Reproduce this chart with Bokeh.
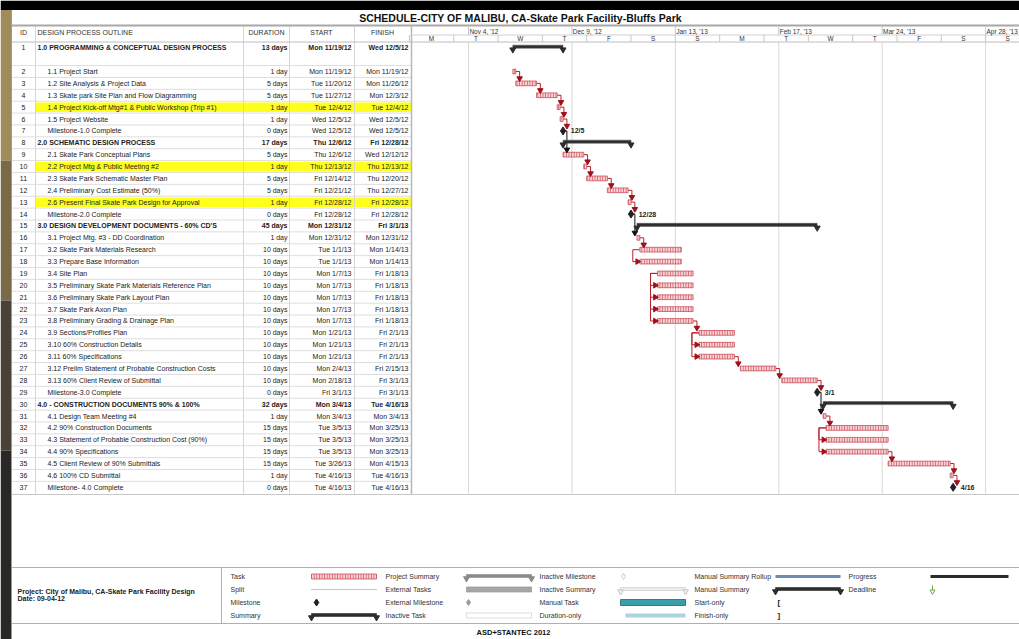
import numpy as np
import pandas as pd
from bokeh.plotting import figure
from bokeh.models import Range1d, ColumnDataSource
from bokeh.core.properties import value
from bokeh.embed import file_html
from bokeh.resources import INLINE

# ---------------- data ----------------
chart_title = "SCHEDULE-CITY OF MALIBU, CA-Skate Park Facility-Bluffs Park"
header_labels = ["ID", "DESIGN PROCESS OUTLINE", "DURATION", "START", "FINISH"]

ids = list(range(1, 38))
names = [
    "1.0 PROGRAMMING & CONCEPTUAL DESIGN PROCESS",
    "1.1 Project Start",
    "1.2 Site Analysis & Project Data",
    "1.3  Skate park Site Plan and Flow Diagramming",
    "1.4 Project Kick-off Mtg#1 & Public Workshop (Trip #1)",
    "1.5 Project Website",
    "Milestone-1.0 Complete",
    "2.0 SCHEMATIC DESIGN PROCESS",
    "2.1 Skate Park Conceptual Plans",
    "2.2 Project Mtg & Public Meeting #2",
    "2.3 Skate Park Schematic Master Plan",
    "2.4  Preliminary Cost Estimate (50%)",
    "2.6  Present Final Skate Park Design for Approval",
    "Milestone-2.0 Complete",
    "3.0 DESIGN DEVELOPMENT DOCUMENTS - 60% CD'S",
    "3.1 Project Mtg. #3 - DD Coordination",
    "3.2 Skate Park Materials Research",
    "3.3 Prepare Base Information",
    "3.4 Site Plan",
    "3.5 Preliminary Skate Park Materials Reference Plan",
    "3.6 Preliminary Skate Park Layout Plan",
    "3.7 Skate Park Axon Plan",
    "3.8 Preliminary Grading & Drainage Plan",
    "3.9 Sections/Profiles Plan",
    "3.10 60% Construction Details",
    "3.11 60% Specifications",
    "3.12 Prelim Statement of Probable Construction Costs",
    "3.13 60% Client Review of Submittal",
    "Milestone-3.0 Complete",
    "4.0 - CONSTRUCTION DOCUMENTS 90% & 100%",
    "4.1 Design Team Meeting #4",
    "4.2 90% Construction Documents",
    "4.3 Statement of Probable Construction Cost (90%)",
    "4.4 90% Specifications",
    "4.5 Client Review of 90% Submittals",
    "4.6 100% CD Submittal",
    "Milestone- 4.0 Complete",
]
durations = [
    "13 days", "1 day", "5 days", "5 days", "1 day", "1 day", "0 days",
    "17 days", "5 days", "1 day", "5 days", "5 days", "1 day", "0 days",
    "45 days", "1 day", "10 days", "10 days", "10 days", "10 days", "10 days",
    "10 days", "10 days", "10 days", "10 days", "10 days", "10 days", "10 days",
    "0 days", "32 days", "1 day", "15 days", "15 days", "15 days", "15 days",
    "1 day", "0 days",
]
starts = [
    "Mon 11/19/12", "Mon 11/19/12", "Tue 11/20/12", "Tue 11/27/12", "Tue 12/4/12",
    "Wed 12/5/12", "Wed 12/5/12", "Thu 12/6/12", "Thu 12/6/12", "Thu 12/13/12",
    "Fri 12/14/12", "Fri 12/21/12", "Fri 12/28/12", "Fri 12/28/12", "Mon 12/31/12",
    "Mon 12/31/12", "Tue 1/1/13", "Tue 1/1/13", "Mon 1/7/13", "Mon 1/7/13",
    "Mon 1/7/13", "Mon 1/7/13", "Mon 1/7/13", "Mon 1/21/13", "Mon 1/21/13",
    "Mon 1/21/13", "Mon 2/4/13", "Mon 2/18/13", "Fri 3/1/13", "Mon 3/4/13",
    "Mon 3/4/13", "Tue 3/5/13", "Tue 3/5/13", "Tue 3/5/13", "Tue 3/26/13",
    "Tue 4/16/13", "Tue 4/16/13",
]
finishes = [
    "Wed 12/5/12", "Mon 11/19/12", "Mon 11/26/12", "Mon 12/3/12", "Tue 12/4/12",
    "Wed 12/5/12", "Wed 12/5/12", "Fri 12/28/12", "Wed 12/12/12", "Thu 12/13/12",
    "Thu 12/20/12", "Thu 12/27/12", "Fri 12/28/12", "Fri 12/28/12", "Fri 3/1/13",
    "Mon 12/31/12", "Mon 1/14/13", "Mon 1/14/13", "Fri 1/18/13", "Fri 1/18/13",
    "Fri 1/18/13", "Fri 1/18/13", "Fri 1/18/13", "Fri 2/1/13", "Fri 2/1/13",
    "Fri 2/1/13", "Fri 2/15/13", "Fri 3/1/13", "Fri 3/1/13", "Tue 4/16/13",
    "Mon 3/4/13", "Mon 3/25/13", "Mon 3/25/13", "Mon 3/25/13", "Mon 4/15/13",
    "Tue 4/16/13", "Tue 4/16/13",
]
summary_ids = [1, 8, 15, 30]
milestone_ids = [7, 14, 29, 37]
highlight_ids = [5, 10, 13]

# finish-to-start links (predecessor, successor)
fs_links = [(2, 3), (3, 4), (4, 5), (5, 6), (6, 7), (7, 9), (9, 10), (10, 11),
            (11, 12), (12, 13), (13, 14), (14, 16), (16, 17), (23, 24), (26, 27),
            (27, 28), (28, 29), (29, 31), (31, 32), (34, 35), (35, 36), (36, 37)]
# links drawn along the left side of the bars (anchor row, successor)
side_links = [(17, 18), (19, 20), (19, 21), (19, 22), (19, 23), (24, 25), (24, 26),
              (32, 33), (32, 34)]

major_ticks = ["2012-11-04", "2012-12-09", "2013-01-13", "2013-02-17", "2013-03-24", "2013-04-28"]
major_labels = ["Nov 4, '12", "Dec 9, '12", "Jan 13, '13", "Feb 17, '13", "Mar 24, '13", "Apr 28, '13"]
minor_ticks = ["2012-10-15", "2012-10-30", "2012-11-14", "2012-11-29", "2012-12-14",
               "2012-12-29", "2013-01-13", "2013-01-28", "2013-02-12", "2013-02-27",
               "2013-03-14", "2013-03-29", "2013-04-13", "2013-04-28", "2013-05-13"]
minor_labels = ["M", "T", "W", "T", "F", "S", "S", "M", "T", "W", "T", "F", "S", "S"]

legend_cols = [
    ["Task", "Split", "Milestone", "Summary"],
    ["Project Summary", "External Tasks", "External Milestone", "Inactive Task"],
    ["Inactive Milestone", "Inactive Summary", "Manual Task", "Duration-only"],
    ["Manual Summary Rollup", "Manual Summary", "Start-only", "Finish-only"],
    ["Progress", "Deadline"],
]
project_lines = ["Project: City of Malibu, CA-Skate Park Facility Design", "Date: 09-04-12"]
footer = "ASD+STANTEC 2012"

# ---------------- layout ----------------
FONT = value("Liberation Sans")
W, H = 1019, 639
OX, OY = 0, 0
ORIGIN = pd.Timestamp("2012-11-04")
PX_DAY = 2.955
ORIGIN_PX = 468.0
PITCH = 11.88
ROW2_PX = 71.0
DAY = 86400000.0


def ms(ts):
    return (pd.Timestamp(ts) - pd.Timestamp("1970-01-01")) / pd.Timedelta(milliseconds=1)


def parse(s):
    return pd.to_datetime(s.split()[1], format="%m/%d/%y")


x0 = ms(ORIGIN) + (OX - ORIGIN_PX) / PX_DAY * DAY
x1 = ms(ORIGIN) + (OX + W - ORIGIN_PX) / PX_DAY * DAY
y_top = (OY - ROW2_PX) / PITCH + 2
y_bot = (OY + H - ROW2_PX) / PITCH + 2

p = figure(width=W, height=H, x_range=Range1d(x0, x1), y_range=Range1d(y_bot, y_top),
           output_backend="svg", toolbar_location=None, min_border=0,
           x_axis_location=None, y_axis_location=None, outline_line_color=None,
           background_fill_color="white", border_fill_color="white")
p.grid.visible = False
p.extra_x_ranges = {"px": Range1d(OX, OX + W)}
p.extra_y_ranges = {"py": Range1d(OY + H, OY)}
PXY = dict(x_range_name="px", y_range_name="py")

start_ms = np.array([ms(parse(s)) for s in starts])
end_ms = np.array([ms(parse(s)) for s in finishes]) + DAY
ypos = np.array([0 if i == 1 else i for i in ids], dtype=float)
idx = {i: k for k, i in enumerate(ids)}

# background decoration (photo edge + black band)
p.quad(left=[0] * 4, right=[10.5] * 4, top=[9, 160, 300, 450], bottom=[160, 300, 450, 639],
       fill_color=["#a08c5a", "#7a6a48", "#4a4236", "#2a2826"], line_color=None, **PXY)
p.quad(left=[0], right=[1019], top=[0], bottom=[9.5], fill_color="black", line_color=None, **PXY)

# highlights
hl = [idx[i] for i in highlight_ids]
p.quad(left=[35.5] * len(hl), right=[410.5] * len(hl), top=list(ypos[hl] - 0.4),
       bottom=list(ypos[hl] + 0.4), fill_color="#ffff1e", line_color=None, x_range_name="px")

# table grid
row_lines = [1.5 + k for k in range(36)]
p.segment(x0=[11] * len(row_lines), x1=[411] * len(row_lines), y0=row_lines, y1=row_lines,
          line_color="#dedede", line_width=1, x_range_name="px")
col_x = [35, 243, 289, 354]
p.segment(x0=col_x, x1=col_x, y0=[26] * 4, y1=[494] * 4, line_color="#d6d6d6", **PXY)
p.segment(x0=[11, 411], x1=[11, 411], y0=[9.5, 26], y1=[639, 494],
          line_color=["#9a9a9a", "#b8b8b8"], line_width=[1, 1.5], **PXY)

# horizontal frame lines
p.segment(x0=[11, 11, 411, 11, 11, 11], x1=[1019] * 6, y0=[25, 41.5, 34.5, 494, 567, 623],
          y1=[25, 41.5, 34.5, 494, 567, 623],
          line_color=["#a8a8a8", "#bdbdbd", "#d0d0d0", "#c8c8c8", "#b0b0b0", "#b0b0b0"],
          line_width=[2, 1, 1, 1, 1, 1], **PXY)
p.segment(x0=[221], x1=[221], y0=[567], y1=[623], line_color="#b0b0b0", **PXY)

# title
p.text(x=[520], y=[17], text=[chart_title], text_font=FONT, text_font_size="10.5px",
       text_font_style="bold", text_align="center", text_baseline="middle",
       text_color="#111", **PXY)

# table header
p.text(x=[23, 37, 266, 321, 382], y=[32] * 5, text=header_labels, text_font=FONT,
       text_font_size="7px", text_align=["center", "left", "center", "center", "center"],
       text_baseline="middle", text_color="#333", **PXY)

# table body
is_sum = np.array([i in summary_ids for i in ids])
name_x = np.where(is_sum, 37, 47)
for mask, style in ((~is_sum, "normal"), (is_sum, "bold")):
    sel = np.where(mask)[0]
    src = ColumnDataSource(dict(
        y=ypos[sel], idtxt=[str(ids[k]) for k in sel], name=[names[k] for k in sel],
        nx=name_x[sel], dur=[durations[k] for k in sel], st=[starts[k] for k in sel],
        fi=[finishes[k] for k in sel]))
    common = dict(source=src, y="y", text_font=FONT, text_font_size="7px",
                  text_baseline="middle", text_color="#222", x_range_name="px")
    p.text(x=23, text="idtxt", text_align="center", **common)
    p.text(x="nx", text="name", text_align="left", text_font_style=style, **common)
    p.text(x=287, text="dur", text_align="right", text_font_style=style, **common)
    p.text(x=351, text="st", text_align="right", text_font_style=style, **common)
    p.text(x=408, text="fi", text_align="right", text_font_style=style, **common)

# timescale header
maj = np.array([ms(t) for t in major_ticks])
mnr = np.array([ms(t) for t in minor_ticks])
p.segment(x0=maj, x1=maj, y0=[26] * len(maj), y1=[34.5] * len(maj), line_color="#c8c8c8",
          y_range_name="py")
p.segment(x0=mnr, x1=mnr, y0=[34.5] * len(mnr), y1=[41.5] * len(mnr), line_color="#c8c8c8",
          y_range_name="py")
p.segment(x0=maj, x1=maj, y0=[41.5] * len(maj), y1=[494] * len(maj), line_color="#d8d8d8",
          y_range_name="py")
p.text(x=maj + 0.3 * DAY, y=[30.5] * len(maj), text=major_labels, text_font=FONT,
       text_font_size="6.5px", text_baseline="middle", text_align="left", text_color="#333",
       y_range_name="py")
p.text(x=(mnr[:-1] + mnr[1:]) / 2, y=[38.2] * len(minor_labels), text=minor_labels,
       text_font=FONT, text_font_size="6.5px", text_baseline="middle", text_align="center",
       text_color="#333", y_range_name="py")

# ---------------- gantt ----------------
is_ms = np.array([i in milestone_ids for i in ids])
task_sel = np.where(~is_sum & ~is_ms)[0]
sum_sel = np.where(is_sum)[0]
ms_sel = np.where(is_ms)[0]

TASK_STYLE = dict(fill_color="#f8d3d6", line_color="#c8505a", line_width=0.8,
                  hatch_pattern="vertical_line", hatch_color="#d45a66", hatch_scale=2.6,
                  hatch_weight=0.9)

# links
link_xs, link_ys, link_col = [], [], []
arr_x, arr_y, arr_c = [], [], []
for a, b in fs_links:
    ka, kb = idx[a], idx[b]
    xe = end_ms[ka]
    xa = xe + 1.3 * DAY
    link_xs.append([xe, xa, xa])
    link_ys.append([ypos[ka], ypos[ka], ypos[kb] - 0.45])
    link_col.append("#111111" if is_ms[ka] else "#b8222c")
    arr_x.append(xa)
    arr_y.append(ypos[kb] - 0.42)
    arr_c.append("#111111" if is_ms[ka] else "#a0101a")
rx, ry = [], []
for a, b in side_links:
    ka, kb = idx[a], idx[b]
    xl = start_ms[kb] - 2.4 * DAY
    link_xs.append([start_ms[ka], xl, xl, start_ms[kb] - 0.8 * DAY])
    link_ys.append([ypos[ka], ypos[ka], ypos[kb], ypos[kb]])
    link_col.append("#b8222c")
    rx.append(start_ms[kb] - 0.8 * DAY)
    ry.append(ypos[kb])

p.multi_line(xs=link_xs, ys=link_ys, line_color=link_col, line_width=1)

# task bars
p.quad(left=start_ms[task_sel], right=end_ms[task_sel], top=ypos[task_sel] - 0.2,
       bottom=ypos[task_sel] + 0.2, **TASK_STYLE)

# summary bars
p.quad(left=start_ms[sum_sel], right=end_ms[sum_sel], top=ypos[sum_sel] - 0.22,
       bottom=ypos[sum_sel] + 0.04, fill_color="#2e2e2e", line_color="#555", line_width=0.5)
p.scatter(x=np.concatenate([start_ms[sum_sel], end_ms[sum_sel]]),
          y=np.concatenate([ypos[sum_sel], ypos[sum_sel]]) + 0.16,
          marker="inverted_triangle", size=6, fill_color="#2e2e2e", line_color="#2e2e2e")

# arrows
p.scatter(x=arr_x, y=arr_y, marker="inverted_triangle", size=5.5, fill_color=arr_c,
          line_color=arr_c)
p.scatter(x=rx, y=ry, marker="triangle", angle=-np.pi / 2, size=5.5, fill_color="#a0101a",
          line_color="#a0101a")

# milestones
p.scatter(x=end_ms[ms_sel], y=ypos[ms_sel], marker="diamond", size=8, fill_color="#222",
          line_color="#222")
ms_lbl = ["{}/{}".format(parse(finishes[k]).month, parse(finishes[k]).day) for k in ms_sel]
p.text(x=end_ms[ms_sel] + 2.6 * DAY, y=ypos[ms_sel], text=ms_lbl, text_font=FONT,
       text_font_size="7px", text_font_style="bold", text_baseline="middle",
       text_color="#222")

# ---------------- legend ----------------
lab_x = [230, 385, 539, 694, 848]
row_y = [576, 589, 602, 615]
lx, ly, lt = [], [], []
for c, col in enumerate(legend_cols):
    for r, lab in enumerate(col):
        lx.append(lab_x[c]); ly.append(row_y[r]); lt.append(lab)
p.text(x=lx, y=ly, text=lt, text_font=FONT, text_font_size="7px", text_baseline="middle",
       text_color="#333", **PXY)

# col 1
p.quad(left=[311], right=[376], top=[573.5], bottom=[578.5], **TASK_STYLE, **PXY)
p.segment(x0=[311], x1=[376], y0=[589], y1=[589], line_color="#7a86a8", line_dash="1 1", **PXY)
p.scatter(x=[316], y=[602], marker="diamond", size=7, fill_color="#222", line_color="#222", **PXY)
# summary-like bars: summary, project summary, manual summary, inactive summary
sb_x0 = [311, 466, 775, 620]
sb_x1 = [376, 531, 840, 685]
sb_y = [615, 576, 589, 589]
sb_c = ["#2e2e2e", "#8a8a8a", "#2e2e2e", "#ececec"]
sb_l = ["#2e2e2e", "#8a8a8a", "#2e2e2e", "#c8c8c8"]
p.quad(left=sb_x0, right=sb_x1, top=[y - 2 for y in sb_y], bottom=[y + 1 for y in sb_y],
       fill_color=sb_c, line_color=sb_l, line_width=0.6, **PXY)
p.scatter(x=sb_x0 + sb_x1, y=[y + 2 for y in sb_y] * 2, marker="inverted_triangle", size=6,
          fill_color=sb_c * 2, line_color=sb_l * 2, **PXY)
# col 2
p.quad(left=[466, 466], right=[531, 531], top=[586.5, 612.5], bottom=[591.5, 617.5],
       fill_color=["#a6a6a6", "white"], line_color=["#999", "#d0d0d0"], line_width=0.7, **PXY)
p.scatter(x=[468, 623], y=[602, 576], marker="diamond", size=6,
          fill_color=["#9a9a9a", "white"], line_color=["#9a9a9a", "#c8c8c8"], **PXY)
# col 3
p.quad(left=[620, 625], right=[685, 685], top=[599, 613], bottom=[605, 617],
       fill_color=["#3a9fa9", "#acd3e1"], line_color=["#1f6570", None], line_width=0.8, **PXY)
# col 4
p.quad(left=[775, 930], right=[840, 1008], top=[574.5, 574.5], bottom=[577.5, 577.5],
       fill_color=["#6d8bb3", "#2a2a2a"], line_color=None, **PXY)
p.text(x=[777, 777], y=[602, 615], text=["[", "]"], text_font=FONT, text_font_size="8px",
       text_font_style="bold", text_baseline="middle", text_color="#222", **PXY)
# col 5 deadline arrow
p.segment(x0=[932], x1=[932], y0=[585], y1=[590], line_color="#6aa84f", **PXY)
p.scatter(x=[932], y=[591], marker="inverted_triangle", size=5, fill_color="white",
          line_color="#6aa84f", **PXY)

# project info + footer
p.text(x=[17, 17], y=[591, 598], text=project_lines, text_font=FONT, text_font_size="7px",
       text_font_style="bold", text_baseline="middle", text_color="#222", **PXY)
p.text(x=[513], y=[632], text=[footer], text_font=FONT, text_font_size="7.5px",
       text_font_style="bold", text_align="center", text_baseline="middle", text_color="#111",
       **PXY)

open("out.html", "w").write(file_html(p, INLINE))
